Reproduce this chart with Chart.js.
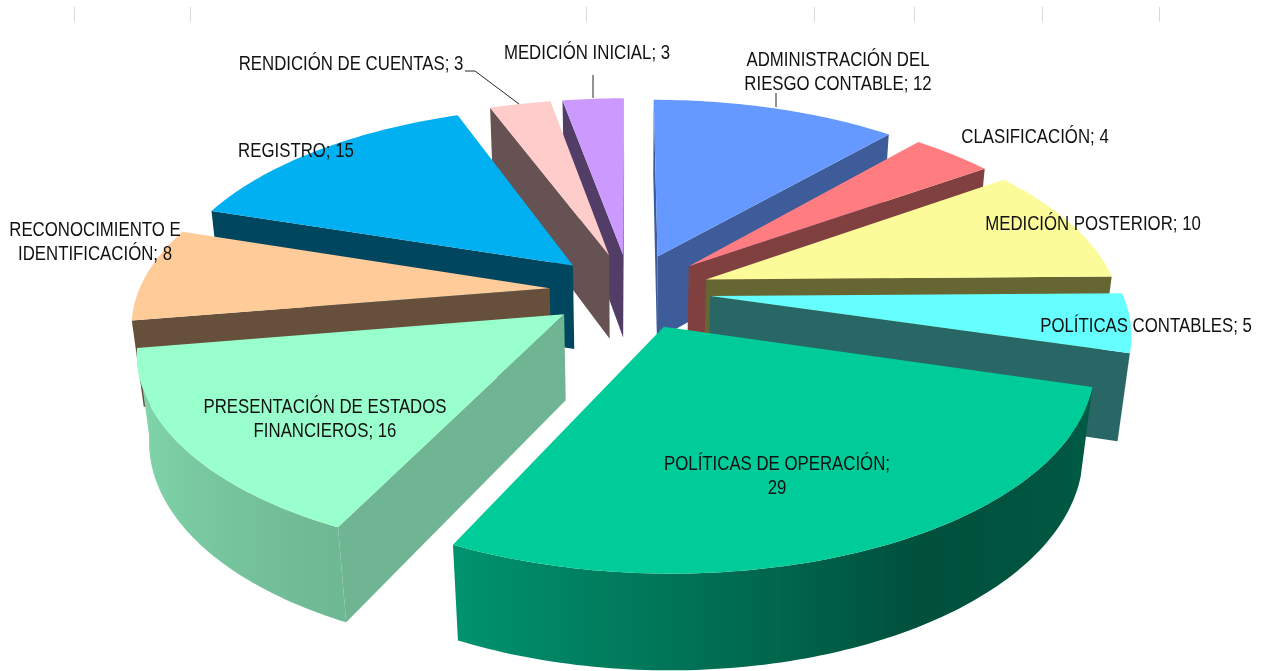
<!DOCTYPE html>
<html>
<head>
<meta charset="utf-8">
<title>Pie 3D</title>
<script src="https://cdn.jsdelivr.net/npm/chart.js@4"></script>
<style>
    html, body { margin: 0; padding: 0; background: #fff; }
    #wrap { width: 1263px; height: 671px; }
</style>
</head>
<body>
<div id="wrap"><canvas id="chartPie" width="1263" height="671"></canvas></div>
<script>
const categories = ['ADMINISTRACIÓN DEL RIESGO CONTABLE', 'CLASIFICACIÓN', 'MEDICIÓN POSTERIOR', 'POLÍTICAS CONTABLES', 'POLÍTICAS DE OPERACIÓN', 'PRESENTACIÓN DE ESTADOS FINANCIEROS', 'RECONOCIMIENTO E IDENTIFICACIÓN', 'REGISTRO', 'RENDICIÓN DE CUENTAS', 'MEDICIÓN INICIAL'];
const values = [12, 4, 10, 5, 29, 16, 8, 15, 3, 3];
const topColors = ['#6699FF', '#FF7C80', '#FBFB99', '#66FFFF', '#00CC99', '#99FFCC', '#FFCC99', '#00B0F0', '#FFCCCC', '#CC99FF'];
const sideColors = ['#3D5C99', '#804040', '#666633', '#296666', '#005039', '#70B593', '#66503C', '#00465F', '#665252', '#523D66'];

// label lines and where they sit in the picture
const labelLines = [
    ['ADMINISTRACIÓN DEL', 'RIESGO CONTABLE; 12'],
    ['CLASIFICACIÓN; 4'],
    ['MEDICIÓN POSTERIOR; 10'],
    ['POLÍTICAS CONTABLES; 5'],
    ['POLÍTICAS DE OPERACIÓN;', '29'],
    ['PRESENTACIÓN DE ESTADOS', 'FINANCIEROS; 16'],
    ['RECONOCIMIENTO E', 'IDENTIFICACIÓN; 8'],
    ['REGISTRO; 15'],
    ['RENDICIÓN DE CUENTAS; 3'],
    ['MEDICIÓN INICIAL; 3']
];
const labelX = [838, 1035, 1093, 1146, 777, 325, 95, 296, 351, 587];
const labelY = [60, 137, 224, 326, 464, 407, 230, 151, 64, 53];
const leaders = [
    [[776, 93], [776, 107]],
    [[465, 71], [475, 71], [519, 104]],
    [[593, 75], [593, 98]]
];
const cropTicks = [74, 190, 586, 814, 914, 1042, 1159];

// perspective of the pie plane
const view = { cx: 630, cy: 291, a: 411, b: 193, p: 0.165, h: 87, q: 0.024 };

// wall brightness along the pie, degrees clockwise from the top
const wallShade = [[0, 0.6], [150, 0.39], [205, 0.72], [260, 0.87], [360, 0.6]];

function project(u, v, z) {
    const s = 1 / (1 - view.p * v + view.q * z);
    return [view.cx + view.a * u * s, view.cy + (view.b * v + view.h * z) * s];
}

function shadeAt(angle) {
    let deg = (angle + Math.PI / 2) * 180 / Math.PI;
    deg = ((deg % 360) + 360) % 360;
    for (let i = 1; i < wallShade.length; i++) {
        if (deg <= wallShade[i][0]) {
            const a = wallShade[i - 1], b = wallShade[i];
            return a[1] + (b[1] - a[1]) * (deg - a[0]) / (b[0] - a[0]);
        }
    }
    return 0.6;
}

function darken(hex, f) {
    const n = parseInt(hex.slice(1), 16);
    const r = Math.round((n >> 16 & 255) * f), g = Math.round((n >> 8 & 255) * f), b = Math.round((n & 255) * f);
    return 'rgb(' + r + ',' + g + ',' + b + ')';
}

// faces turned to the viewer have a negative area
function facesViewer(a, b, c, d) {
    const pts = [a, b, c, d];
    let area = 0;
    for (let i = 0; i < 4; i++) {
        const p = pts[i], q = pts[(i + 1) % 4];
        area += p[0] * q[1] - q[0] * p[1];
    }
    return area < 0;
}

function fillPath(ctx, pts, fill) {
    ctx.beginPath();
    pts.forEach((p, i) => i ? ctx.lineTo(p[0], p[1]) : ctx.moveTo(p[0], p[1]));
    ctx.closePath();
    ctx.fillStyle = fill;
    ctx.fill();
}

function drawCut(ctx, a, b, c, d, color) {
    if (facesViewer(a, b, c, d)) fillPath(ctx, [a, b, c, d], color);
}

function drawSlice(ctx, arc, index) {
    const R = arc.outerRadius;
    const mid = (arc.startAngle + arc.endAngle) / 2;
    const ox = arc.options.offset / R * Math.cos(mid);
    const oy = arc.options.offset / R * Math.sin(mid);
    const rim = (t, z) => project(ox + Math.cos(t), oy + Math.sin(t), z);
    const apex = z => project(ox, oy, z);

    const steps = Math.ceil((arc.endAngle - arc.startAngle) * 180 / Math.PI);
    const dt = (arc.endAngle - arc.startAngle) / steps;

    // outer wall: the visible stretch as one shape with a horizontal gradient
    const seen = [];
    for (let i = 0; i <= steps; i++) {
        const t = arc.startAngle + i * dt;
        if (i < steps && facesViewer(rim(t, 0), rim(t + dt, 0), rim(t + dt, 1), rim(t, 1))) seen.push(t);
        else if (seen.length && t - seen[seen.length - 1] < dt * 1.5) seen.push(t);
    }
    if (seen.length > 1) {
        const x0 = rim(seen[0], 0)[0], x1 = rim(seen[seen.length - 1], 0)[0];
        const grad = ctx.createLinearGradient(x0, 0, x1, 0);
        seen.forEach(t => {
            const pos = Math.min(1, Math.max(0, (rim(t, 0)[0] - x0) / (x1 - x0 || 1)));
            grad.addColorStop(pos, darken(topColors[index], shadeAt(t)));
        });
        const wall = seen.map(t => rim(t, 0)).concat(seen.slice().reverse().map(t => rim(t, 1)));
        fillPath(ctx, wall, grad);
    }

    // the two cut faces
    drawCut(ctx, apex(0), rim(arc.startAngle, 0), rim(arc.startAngle, 1), apex(1), sideColors[index]);
    drawCut(ctx, rim(arc.endAngle, 0), apex(0), apex(1), rim(arc.endAngle, 1), sideColors[index]);

    // top face
    const top = [apex(0)];
    for (let i = 0; i <= steps; i++) top.push(rim(arc.startAngle + i * dt, 0));
    fillPath(ctx, top, topColors[index]);
}

const pie3d = {
    id: 'pie3d',
    beforeDatasetsDraw(chart) {
        const ctx = chart.ctx;
        const arcs = chart.getDatasetMeta(0).data;
        // back slices first
        const order = arcs.map((arc, i) => i).sort((i, j) => {
            const mi = (arcs[i].startAngle + arcs[i].endAngle) / 2;
            const mj = (arcs[j].startAngle + arcs[j].endAngle) / 2;
            return Math.sin(mi) - Math.sin(mj);
        });
        ctx.save();
        order.forEach(i => drawSlice(ctx, arcs[i], i));
        ctx.restore();
        return false;
    },
    afterDraw(chart) {
        const ctx = chart.ctx;
        ctx.save();

        ctx.strokeStyle = '#d9d9d9';
        ctx.lineWidth = 1;
        cropTicks.forEach(x => {
            ctx.beginPath();
            ctx.moveTo(x + 0.5, 7);
            ctx.lineTo(x + 0.5, 22);
            ctx.stroke();
        });

        ctx.strokeStyle = '#262626';
        leaders.forEach(line => {
            ctx.beginPath();
            line.forEach((pt, i) => i ? ctx.lineTo(pt[0], pt[1]) : ctx.moveTo(pt[0], pt[1]));
            ctx.stroke();
        });

        ctx.font = '20px "Liberation Sans"';
        ctx.fillStyle = '#111';
        ctx.textAlign = 'center';
        ctx.textBaseline = 'middle';
        labelLines.forEach((lines, i) => {
            lines.forEach((line, j) => {
                ctx.fillText(line, labelX[i], labelY[i] + j * 24, ctx.measureText(line).width * 0.84);
            });
        });
        ctx.restore();
    }
};

const pie = new Chart(document.getElementById('chartPie'), {
    type: 'pie',
    data: {
        labels: categories,
        datasets: [{
            data: values,
            backgroundColor: topColors,
            borderWidth: 0,
            offset: 60
        }]
    },
    options: {
        responsive: false,
        animation: false,
        layout: { padding: 0 },
        plugins: {
            legend: { display: false },
            tooltip: { enabled: false }
        }
    },
    plugins: [pie3d]
});
</script>
</body>
</html>
